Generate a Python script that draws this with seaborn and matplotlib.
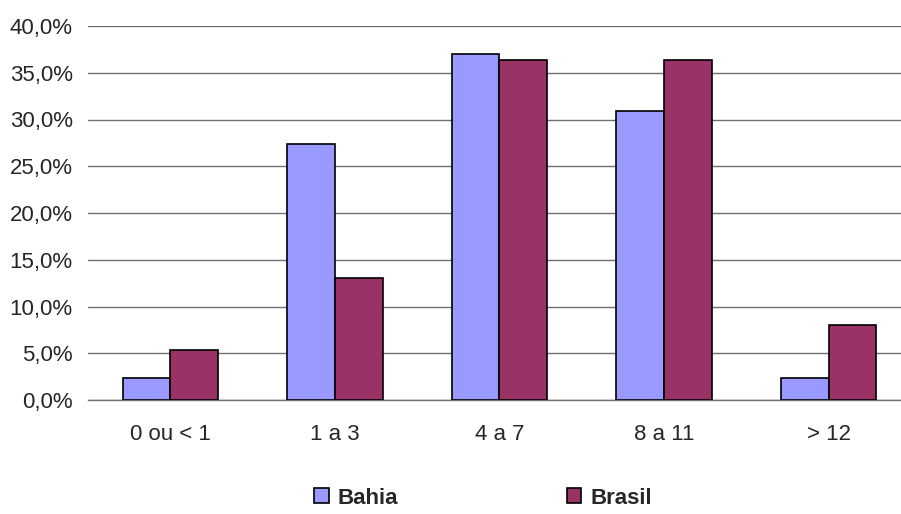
import matplotlib
matplotlib.use("Agg")
import matplotlib.pyplot as plt
import pandas as pd
import seaborn as sns
from matplotlib.patches import Patch
from matplotlib.ticker import FuncFormatter

categories = ["0 ou < 1", "1 a 3", "4 a 7", "8 a 11", "> 12"]
bahia = [2.3, 27.4, 37.0, 30.9, 2.3]
brasil = [5.3, 13.1, 36.4, 36.4, 8.0]
series = ["Bahia", "Brasil"]
colors = {"Bahia": "#9999FF", "Brasil": "#993366"}

df = pd.DataFrame({
    "faixa": categories * 2,
    "valor": bahia + brasil,
    "serie": ["Bahia"] * len(categories) + ["Brasil"] * len(categories),
})

sns.set_style("white")
plt.rcParams["font.family"] = ["Liberation Sans", "DejaVu Sans"]

fig = plt.figure(figsize=(9.01, 5.14), dpi=100)
ax = fig.add_axes([88 / 901, 1 - 400 / 514, (901 - 88) / 901, (400 - 26) / 514])

sns.barplot(
    data=df, x="faixa", y="valor", hue="serie", order=categories,
    hue_order=series, palette=colors, width=0.58, gap=0,
    edgecolor="black", linewidth=1.2, saturation=1, ax=ax, zorder=3,
)
ax.get_legend().remove()

ax.set_xlim(-0.5, 4.44)
ax.set_ylim(0, 40)
ax.set_yticks(range(0, 41, 5))
ax.yaxis.set_major_formatter(FuncFormatter(lambda v, p: f"{v:.1f}%".replace(".", ",")))
ax.grid(axis="y", color="#707070", linewidth=1.0, zorder=0)
ax.set_axisbelow(True)
for s in ["top", "right", "left"]:
    ax.spines[s].set_visible(False)
ax.spines["bottom"].set_color("#707070")
ax.spines["bottom"].set_linewidth(1.0)
ax.tick_params(axis="x", length=0, pad=17, labelsize=16)
ax.tick_params(axis="y", length=0, pad=11, labelsize=16)
ax.set_xlabel("")
ax.set_ylabel("")

handles = [Patch(facecolor=colors[s], edgecolor="black", linewidth=1.2) for s in series]
fig.legend(
    handles, series, loc="center", bbox_to_anchor=(483 / 901, 1 - 498 / 514),
    ncol=2, frameon=False, handlelength=0.65, handleheight=0.65,
    handletextpad=0.4, columnspacing=7.6,
    prop={"size": 16, "weight": "bold"},
)

fig.savefig("out.png", dpi=100)
